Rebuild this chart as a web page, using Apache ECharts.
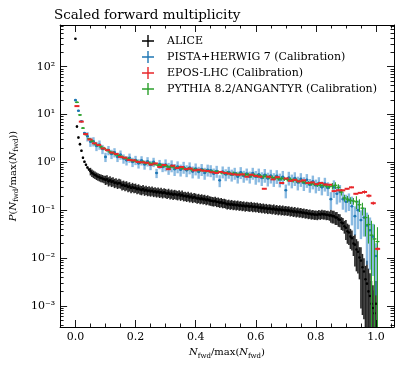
<!DOCTYPE html>
<html>
<head>
<meta charset="utf-8">
<script src="https://cdn.jsdelivr.net/npm/echarts@6.0.0/dist/echarts.min.js"></script>
<style>
  html,body{margin:0;padding:0;background:#fff;}
  #main{width:407px;height:366px;}
</style>
</head>
<body>
<div id="main"></div>
<script>
// ALICE 数据（步长 0.005）
var ALICE_X0 = 0, ALICE_DX = 0.005;
var aliceY = [
  385, 5.6, 3.3, 2.4, 1.75, 1.25, 1.03, 0.89, 0.78, 0.71,
  0.65, 0.6, 0.57, 0.545, 0.52, 0.5, 0.485, 0.47, 0.46, 0.445,
  0.43, 0.44, 0.40, 0.42, 0.39, 0.40, 0.37, 0.38, 0.355, 0.37,
  0.36, 0.33, 0.34, 0.32, 0.33, 0.305, 0.315, 0.29, 0.305, 0.29,
  0.295, 0.275, 0.285, 0.27, 0.262, 0.275, 0.255, 0.265, 0.25, 0.258,
  0.245, 0.255, 0.24, 0.248, 0.235, 0.245, 0.23, 0.24, 0.225, 0.235,
  0.228, 0.22, 0.23, 0.215, 0.222, 0.21, 0.218, 0.212, 0.205, 0.215,
  0.2, 0.21, 0.195, 0.2, 0.19, 0.198, 0.185, 0.192, 0.18, 0.188,
  0.182, 0.175, 0.18, 0.17, 0.176, 0.168, 0.172, 0.162, 0.168, 0.16,
  0.158, 0.155, 0.152, 0.156, 0.148, 0.15, 0.143, 0.147, 0.14, 0.142,
  0.138, 0.132, 0.136, 0.13, 0.134, 0.128, 0.131, 0.126, 0.13, 0.124,
  0.127, 0.122, 0.125, 0.119, 0.123, 0.12, 0.118, 0.122, 0.116, 0.119,
  0.115, 0.118, 0.112, 0.115, 0.11, 0.113, 0.108, 0.111, 0.106, 0.109,
  0.107, 0.104, 0.108, 0.102, 0.105, 0.1, 0.104, 0.099, 0.102, 0.098,
  0.1, 0.097, 0.099, 0.094, 0.097, 0.092, 0.095, 0.09, 0.093, 0.089,
  0.091, 0.087, 0.089, 0.085, 0.087, 0.083, 0.085, 0.081, 0.083, 0.08,
  0.081, 0.079, 0.083, 0.08, 0.084, 0.081, 0.082, 0.079, 0.08, 0.077,
  0.078, 0.075, 0.075, 0.07, 0.07, 0.064, 0.063, 0.055, 0.053, 0.046,
  0.043, 0.036, 0.034, 0.028, 0.026, 0.02, 0.019, 0.015, 0.0135, 0.0102,
  0.0088, 0.0064, 0.0052, 0.0036, 0.0029, 0.002, 0.0016, 0.0011, 0.0009, 0.0007,
  0.0011
];
// 相对误差 [起始x, 误差]
var aliceErrBand = [[0,0.02],[0.005,0.05],[0.05,0.18],[0.1,0.22],[0.85,0.3],[0.9,0.45],[0.93,0.65],[0.95,0.9],[0.97,2.0]];

// PISTA+HERWIG 7（步长 0.01）
var PISTA_X0 = 0, PISTA_DX = 0.01;
var pistaY = [
  20, 12, 7.2, 4.1, 3.5, 2.7, 2.75, 2.2, 2.35, 1.9,
  1.3, 1.8, 1.5, 1.62, 1.3, 1.45, 1.2, 1.1, 1.25, 1.02,
  1.12, 0.95, 1.1, 0.9, 1.05, 0.88, 1.02, 0.6, 0.92, 0.8,
  0.9, 0.76, 0.86, 0.72, 0.82, 0.7, 0.8, 0.68, 0.78, 0.64,
  0.74, 0.63, 0.72, 0.6, 0.7, 0.68, 0.58, 0.66, 0.42, 0.64,
  0.56, 0.63, 0.55, 0.6, 0.5, 0.62, 0.52, 0.58, 0.5, 0.6,
  0.5, 0.56, 0.47, 0.55, 0.46, 0.53, 0.45, 0.52, 0.44, 0.5,
  0.26, 0.48, 0.42, 0.47, 0.38, 0.45, 0.37, 0.43, 0.34, 0.4,
  0.33, 0.37, 0.3, 0.36, 0.29, 0.17, 0.3, 0.22, 0.24, 0.17,
  0.15, 0.16, 0.12, 0.075, 0.1, 0.062, 0.07, 0.048, 0.038, 0.028,
  0.011
];
var pistaErrBand = [[0,0.05],[0.04,0.22],[0.3,0.28],[0.6,0.32],[0.85,0.4],[0.92,0.6],[0.97,0.85]];

// EPOS-LHC（步长 0.0145）
var EPOS_X0 = 0.005, EPOS_DX = 0.0145;
var eposY = [
  15, 7.1, 3.9, 3.0, 2.5, 2.3, 1.95, 1.8, 1.6, 1.5,
  1.3, 1.25, 1.12, 1.1, 1.02, 1.0, 0.98, 0.9, 0.95, 0.8,
  0.88, 0.72, 0.85, 0.76, 0.8, 0.72, 0.74, 0.68, 0.7, 0.67,
  0.66, 0.62, 0.6, 0.63, 0.6, 0.58, 0.56, 0.55, 0.56, 0.5,
  0.55, 0.52, 0.5, 0.28, 0.5, 0.44, 0.49, 0.37, 0.46, 0.41,
  0.43, 0.4, 0.42, 0.37, 0.38, 0.35, 0.37, 0.345, 0.34, 0.25,
  0.26, 0.26, 0.28, 0.3, 0.22, 0.23, 0.24, 0.2, 0.14, 0.0155
];
var eposErrBand = [[0,0.02],[0.8,0.04],[0.95,0.08]];

// PYTHIA 8.2/ANGANTYR（步长 0.01）
var PYTHIA_X0 = 0.005, PYTHIA_DX = 0.01;
var pythiaY = [
  18, 9.8, 5.2, 3.8, 3.1, 2.8, 2.45, 2.3, 2.1, 1.95,
  1.8, 1.65, 1.58, 1.45, 1.38, 1.3, 1.22, 1.18, 1.12, 1.08,
  1.05, 1.0, 1.02, 0.96, 0.97, 0.93, 0.92, 0.87, 0.88, 0.84,
  0.83, 0.8, 0.81, 0.77, 0.78, 0.75, 0.74, 0.73, 0.71, 0.71,
  0.69, 0.68, 0.68, 0.66, 0.65, 0.645, 0.63, 0.63, 0.61, 0.6,
  0.6, 0.58, 0.585, 0.57, 0.56, 0.56, 0.55, 0.55, 0.53, 0.54,
  0.52, 0.52, 0.5, 0.51, 0.49, 0.48, 0.48, 0.46, 0.46, 0.45,
  0.44, 0.44, 0.42, 0.42, 0.4, 0.4, 0.38, 0.37, 0.36, 0.35,
  0.34, 0.33, 0.33, 0.32, 0.31, 0.32, 0.33, 0.3, 0.24, 0.18,
  0.17, 0.16, 0.155, 0.15, 0.13, 0.11, 0.07, 0.05, 0.03, 0.025,
  0.022
];
var pythiaErrBand = [[0,0.03],[0.05,0.08],[0.5,0.1],[0.85,0.16],[0.93,0.3],[0.96,0.6],[0.98,1.0]];

// 刻度
var xMajor = [0, 0.2, 0.4, 0.6, 0.8, 1.0];
var xMinor = [0.05, 0.1, 0.15, 0.25, 0.3, 0.35, 0.45, 0.5, 0.55, 0.65, 0.7, 0.75, 0.85, 0.9, 0.95, 1.05];
var yMajorExp = [-3, -2, -1, 0, 1, 2];

var XMIN = -0.051, XMAX = 1.06;
var YMIN = Math.log(3.6e-4) / Math.LN10, YMAX = Math.log(745) / Math.LN10;
var FONT = "'DejaVu Serif', serif";

var yMinor = [];
for (var n = -4; n <= 2; n++) {
  for (var k = 2; k <= 9; k++) {
    var lv = n + Math.log(k) / Math.LN10;
    if (lv > YMIN && lv < YMAX) yMinor.push(lv);
  }
}

function lg(v){ return Math.log(v) / Math.LN10; }
function relErr(band, x){
  var e = band[0][1];
  band.forEach(function(b){ if (x >= b[0] - 1e-9) e = b[1]; });
  return e;
}
// 生成 [x, log y, log 下限, log 上限]
function build(x0, dx, ys, band){
  return ys.map(function(y, i){
    var x = +(x0 + i * dx).toFixed(4);
    var e = relErr(band, x);
    var lo = y * (1 - e);
    return [x, lg(y), lo > 0 ? lg(lo) : YMIN - 1, lg(y * (1 + e))];
  });
}

function makeRender(o){
  return function(params, api){
    var x = api.value(0);
    var c = api.coord([x, api.value(1)]);
    var pLo = api.coord([x, Math.max(api.value(2), YMIN)]);
    var pHi = api.coord([x, Math.min(api.value(3), YMAX)]);
    var ch = [];
    ch.push({type:'line', shape:{x1:c[0], y1:pLo[1], x2:c[0], y2:pHi[1]},
      style:{stroke:o.errColor, lineWidth:o.errWidth}});
    if (o.hw) ch.push({type:'line', shape:{x1:c[0]-o.hw, y1:c[1], x2:c[0]+o.hw, y2:c[1]},
      style:{stroke:o.color, lineWidth:o.hWidth}});
    if (o.dot) ch.push({type:'circle', shape:{cx:c[0], cy:c[1], r:o.dot}, style:{fill:o.color}});
    return {type:'group', children:ch};
  };
}

var supMap = {'-':'⁻','0':'⁰','1':'¹','2':'²','3':'³'};
function supLabel(v){
  var s = String(Math.round(v));
  return '10' + s.split('').map(function(c){ return supMap[c]; }).join('');
}

var nameRich = {
  i:{fontFamily:FONT, fontStyle:'italic', fontSize:10, lineHeight:14, color:'#000'},
  n:{fontFamily:FONT, fontSize:10, lineHeight:14, color:'#000'},
  s:{fontFamily:FONT, fontSize:7, lineHeight:7, verticalAlign:'bottom', color:'#000'}
};
var tickLine = {color:'#000', width:0.9};

function xAx(pos, minor, label){
  return {
    type:'value', position:pos, min:XMIN, max:XMAX,
    axisLine:{show:!minor, onZero:false, lineStyle:{color:'#000', width:1}},
    splitLine:{show:false},
    axisTick:{show:true, inside:true, length:minor ? 3.5 : 7, customValues:minor ? xMinor : xMajor, lineStyle:tickLine},
    axisLabel:label ? {show:true, customValues:xMajor, margin:5, color:'#000', fontFamily:FONT, fontSize:11,
      formatter:function(v){ return v.toFixed(1); }} : {show:false}
  };
}
function yAx(pos, minor, label){
  return {
    type:'value', position:pos, min:YMIN, max:YMAX,
    axisLine:{show:!minor, onZero:false, lineStyle:{color:'#000', width:1}},
    splitLine:{show:false},
    axisTick:{show:true, inside:true, length:minor ? 3.5 : 7, customValues:minor ? yMinor : yMajorExp, lineStyle:tickLine},
    axisLabel:label ? {show:true, customValues:yMajorExp, margin:5, color:'#000', fontFamily:FONT, fontSize:11,
      formatter:supLabel} : {show:false}
  };
}

var xAxes = [xAx('bottom', false, true), xAx('bottom', true, false), xAx('top', false, false), xAx('top', true, false)];
xAxes[0].name = '{i|N}{s|fwd}{n|/max(}{i|N}{s|fwd}{n|)}';
xAxes[0].nameLocation = 'middle';
xAxes[0].nameGap = 18;
xAxes[0].nameTextStyle = {rich:nameRich};

var yAxes = [yAx('left', false, true), yAx('left', true, false), yAx('right', false, false), yAx('right', true, false)];
yAxes[0].name = '{i|P}{n|(}{i|N}{s|fwd}{n|/max(}{i|N}{s|fwd}{n|))}';
yAxes[0].nameLocation = 'middle';
yAxes[0].nameGap = 28;
yAxes[0].nameRotate = 90;
yAxes[0].nameTextStyle = {rich:nameRich};

var names = ['ALICE', 'PISTA+HERWIG 7 (Calibration)', 'EPOS-LHC (Calibration)', 'PYTHIA 8.2/ANGANTYR (Calibration)'];
var colors = ['#000000', '#1f77b4', '#e8262a', '#2ca02c'];

var chart = echarts.init(document.getElementById('main'), null, {renderer:'canvas'});
chart.setOption({
  animation:false,
  backgroundColor:'#fff',
  title:{text:'Scaled forward multiplicity', left:54, top:8, padding:0,
    textStyle:{fontFamily:FONT, fontSize:13.5, fontWeight:'normal', color:'#000'}},
  grid:{left:54, right:13, top:25, bottom:39, containLabel:false},
  legend:{
    data:names, orient:'vertical', left:142, top:35, itemGap:4, padding:0,
    itemWidth:12, itemHeight:12, selectedMode:false,
    icon:'path://M0,5.3h12v1.4h-12z M5.3,0h1.4v12h-1.4z',
    textStyle:{fontFamily:FONT, fontSize:11, color:'#000', lineHeight:12, padding:[0,0,0,8]}
  },
  xAxis:xAxes,
  yAxis:yAxes,
  series:[
    {name:names[0], type:'custom', clip:true, itemStyle:{color:colors[0]},
      data:build(ALICE_X0, ALICE_DX, aliceY, aliceErrBand),
      renderItem:makeRender({color:'#000', errColor:'rgba(0,0,0,0.85)', errWidth:1.6, dot:1.3})},
    {name:names[1], type:'custom', clip:true, itemStyle:{color:colors[1]},
      data:build(PISTA_X0, PISTA_DX, pistaY, pistaErrBand),
      renderItem:makeRender({color:'#1f77b4', errColor:'rgba(60,140,205,0.6)', errWidth:2.4, hw:1.5, hWidth:1.2, dot:1.3})},
    {name:names[3], type:'custom', clip:true, itemStyle:{color:colors[3]},
      data:build(PYTHIA_X0, PYTHIA_DX, pythiaY, pythiaErrBand),
      renderItem:makeRender({color:'#2ca02c', errColor:'#2ca02c', errWidth:1.1, hw:2, hWidth:1.2, dot:1})},
    {name:names[2], type:'custom', clip:true, itemStyle:{color:colors[2]},
      data:build(EPOS_X0, EPOS_DX, eposY, eposErrBand),
      renderItem:makeRender({color:'#e8262a', errColor:'#e8262a', errWidth:1, hw:2.5, hWidth:2})}
  ]
});
</script>
</body>
</html>
